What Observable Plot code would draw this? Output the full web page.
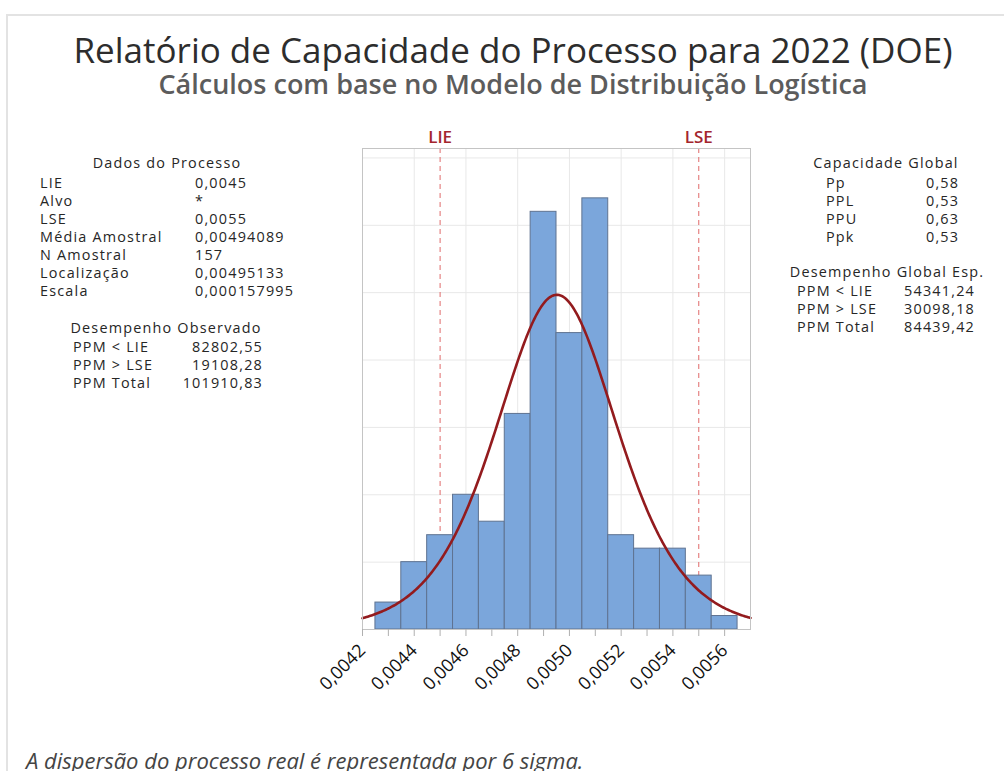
<!DOCTYPE html>
<html lang="pt">
<head>
<meta charset="utf-8">
<script src="https://cdn.jsdelivr.net/npm/d3@7"></script>
<script src="https://cdn.jsdelivr.net/npm/@observablehq/plot@0.6"></script>
<style>
  html, body { margin: 0; padding: 0; background: #fff; }
  #page { position: relative; width: 1004px; height: 771px; overflow: hidden; font-family: "Open Sans", sans-serif; }
  #box { position: absolute; left: 6px; top: 14px; width: 1200px; height: 900px; border-top: 2px solid #e3e3e3; border-left: 2px solid #e3e3e3; }
  #title { position: absolute; left: 13px; width: 1000px; top: 31px; text-align: center; font-size: 35px; line-height: 38px; color: #2d2d2d; white-space: nowrap; }
  #subtitle { position: absolute; left: 13px; width: 1000px; top: 69px; text-align: center; font-size: 27px; line-height: 30px; font-weight: 600; color: #5c5c5c; white-space: nowrap; }
  #chart { position: absolute; left: 0; top: 120px; }
  .t { position: absolute; font-size: 14.4px; line-height: 18px; letter-spacing: 1.2px; color: #262626; white-space: nowrap; }
  #caption { position: absolute; left: 26px; top: 748px; font-size: 22px; line-height: 24px; font-style: italic; color: #444; white-space: nowrap; }
</style>
</head>
<body>
<div id="page">
  <div id="box"></div>
  <div id="title">Relatório de Capacidade do Processo para 2022 (DOE)</div>
  <div id="subtitle">Cálculos com base no Modelo de Distribuição Logística</div>
  <div id="chart"></div>
  <div id="caption">A dispersão do processo real é representada por 6 sigma.</div>
</div>
<script>
// Specification limits and fitted logistic model
const LIE = 0.0045;
const LSE = 0.0055;
const sampleN = 157;
const sampleMean = 0.00494089;
const fitLocation = 0.00495133;
const fitScale = 0.000157995;

// Histogram: bin edges and counts
const binEdges = [0.00425, 0.00435, 0.00445, 0.00455, 0.00465, 0.00475, 0.00485,
                  0.00495, 0.00505, 0.00515, 0.00525, 0.00535, 0.00545, 0.00555, 0.00565];
const counts = [2, 5, 7, 10, 8, 16, 31, 22, 32, 7, 6, 6, 4, 1];

// Axis ticks
const xMajorTicks = [0.0042, 0.0044, 0.0046, 0.0048, 0.0050, 0.0052, 0.0054, 0.0056];
const xTickLabels = ["0,0042", "0,0044", "0,0046", "0,0048", "0,0050", "0,0052", "0,0054", "0,0056"];
const xMinorTicks = [0.0043, 0.0045, 0.0047, 0.0049, 0.0051, 0.0053, 0.0055];
const yGridValues = [5, 10, 15, 20, 25, 30, 35];

// Side panels
const processLabels = ["LIE", "Alvo", "LSE", "Média Amostral", "N Amostral", "Localização", "Escala"];
const fmt = v => String(v).replace(".", ",");
const processValues = [fmt(LIE), "*", fmt(LSE), fmt(sampleMean), String(sampleN), fmt(fitLocation), fmt(fitScale)];
const observedLabels = ["PPM < LIE", "PPM > LSE", "PPM Total"];
const observedValues = ["82802,55", "19108,28", "101910,83"];
const capabilityLabels = ["Pp", "PPL", "PPU", "Ppk"];
const capabilityValues = ["0,58", "0,53", "0,63", "0,53"];
const expectedLabels = ["PPM < LIE", "PPM > LSE", "PPM Total"];
const expectedValues = ["54341,24", "30098,18", "84439,42"];

const page = document.getElementById("page");
function put(text, x, yc, align = "left") {
  const el = document.createElement("div");
  el.className = "t";
  el.textContent = text;
  el.style.top = (yc - 9) + "px";
  if (align === "left") el.style.left = x + "px";
  else if (align === "right") { el.style.right = (1004 - x) + "px"; }
  else { el.style.left = (x - 200) + "px"; el.style.width = "400px"; el.style.textAlign = "center"; }
  page.appendChild(el);
}

put("Dados do Processo", 167, 163, "center");
processLabels.forEach((d, i) => put(d, 40, 183 + i * 18));
processValues.forEach((d, i) => put(d, 195, 183 + i * 18));
put("Desempenho Observado", 166, 328, "center");
observedLabels.forEach((d, i) => put(d, 73, 347 + i * 18));
observedValues.forEach((d, i) => put(d, 263, 347 + i * 18, "right"));

put("Capacidade Global", 886, 163, "center");
capabilityLabels.forEach((d, i) => put(d, 826, 183 + i * 18));
capabilityValues.forEach((d, i) => put(d, 926, 183 + i * 18));
put("Desempenho Global Esp.", 887, 272, "center");
expectedLabels.forEach((d, i) => put(d, 797, 291 + i * 18));
expectedValues.forEach((d, i) => put(d, 975, 291 + i * 18, "right"));

// Histogram table
const bins = counts.map((c, i) => ({x1: binEdges[i], x2: binEdges[i + 1], count: c}));
const binWidth = binEdges[1] - binEdges[0];

// Logistic density with the listed location/scale, scaled to counts per bin
const xDomain = [0.0042, 0.0057];
const curve = d3.range(301).map(i => {
  const x = xDomain[0] + i * (xDomain[1] - xDomain[0]) / 300;
  const z = Math.exp(-(x - fitLocation) / fitScale);
  const pdf = z / (fitScale * (1 + z) * (1 + z));
  return {x, y: sampleN * binWidth * pdf};
});

const specs = [{x: LIE, label: "LIE"}, {x: LSE, label: "LSE"}];
const labelOf = new Map(xMajorTicks.map((t, i) => [t, xTickLabels[i]]));

const chart = Plot.plot({
  width: 1004,
  height: 600,
  marginLeft: 362,
  marginRight: 254,
  marginTop: 28,
  marginBottom: 91,
  style: {fontFamily: "Open Sans, sans-serif", background: "transparent", overflow: "visible"},
  x: {domain: xDomain, label: null},
  y: {domain: [0, 35.7], axis: null},
  marks: [
    Plot.gridX(xMajorTicks, {stroke: "#e8e8e8", strokeOpacity: 1, strokeWidth: 1}),
    Plot.gridY(yGridValues, {stroke: "#e8e8e8", strokeOpacity: 1, strokeWidth: 1}),
    Plot.ruleX(specs, {x: "x", stroke: "#e06a6a", strokeWidth: 1, strokeDasharray: "5,4"}),
    Plot.rectY(bins, {x1: "x1", x2: "x2", y: "count", fill: "#7ba6db", stroke: "#5f7391", strokeWidth: 1}),
    Plot.line(curve, {x: "x", y: "y", stroke: "#931b1e", strokeWidth: 2.6}),
    Plot.text(specs, {x: "x", text: "label", frameAnchor: "top", dy: -11, lineAnchor: "middle",
      fill: "#a3252d", fontSize: 17, fontWeight: 600}),
    Plot.frame({stroke: "#c4c4c4", strokeWidth: 1}),
    Plot.axisX([...xMajorTicks, ...xMinorTicks], {
      tickSize: 7, tickPadding: 11, tickRotate: -45, stroke: "#b0b0b0",
      tickFormat: d => labelOf.get(d) ?? "", fontSize: 18, fontWeight: 500, fill: "#111"
    })
  ]
});
document.getElementById("chart").appendChild(chart);
</script>
</body>
</html>
